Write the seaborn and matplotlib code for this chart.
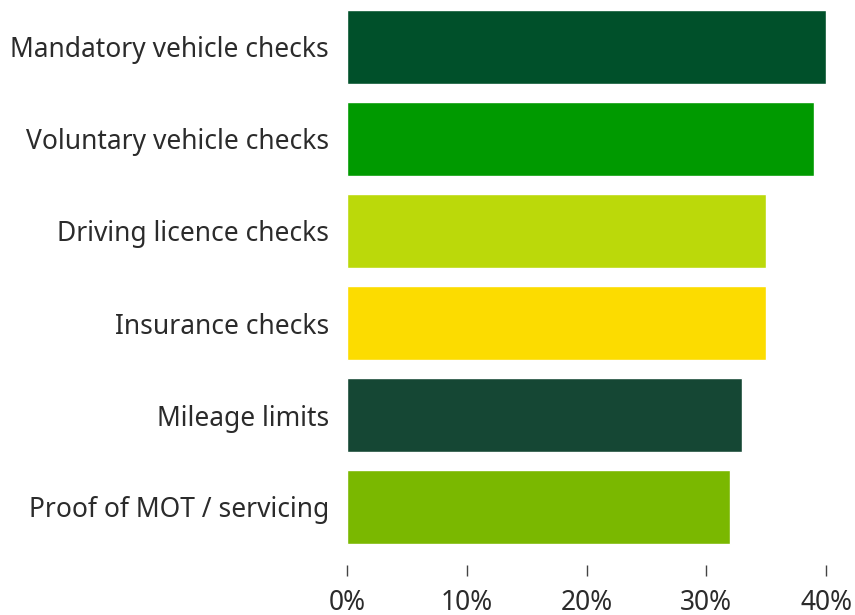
import matplotlib
matplotlib.use("Agg")
import matplotlib.pyplot as plt
import seaborn as sns
import pandas as pd

categories = ["Mandatory vehicle checks", "Voluntary vehicle checks", "Driving licence checks",
              "Insurance checks", "Mileage limits", "Proof of MOT / servicing"]
values = [40, 39, 35, 35, 33, 32]
colors = ["#00502A", "#009A00", "#BBD90A", "#FCDC00", "#154734", "#7AB800"]
x_ticks = [0, 10, 20, 30, 40]
x_labels = ["0%", "10%", "20%", "30%", "40%"]

df = pd.DataFrame({"category": categories, "value": values})

sns.set_theme(style="white")
plt.rcParams["font.family"] = ["Noto Sans", "DejaVu Sans"]

fig = plt.figure(figsize=(8.55, 6.15), dpi=100)
ax = fig.add_axes([347 / 855, 1 - 565 / 615, (826 - 347) / 855, 564 / 615])

sns.barplot(data=df, x="value", y="category", hue="category", palette=colors,
            legend=False, width=0.8, saturation=1, ax=ax)

ax.set_xlim(0, 40)
ax.set_ylim(-0.5 + 564 / 92, -0.5)
ax.set_xticks(x_ticks)
ax.set_xticklabels(x_labels, fontsize=19, color="#2b2b2b")
ax.tick_params(axis="x", length=8, width=1, color="#444444", pad=9, bottom=True)
ax.tick_params(axis="y", length=0, pad=13)
for lbl in ax.get_yticklabels():
    lbl.set_fontsize(19)
    lbl.set_color("#2b2b2b")
ax.set_xlabel("")
ax.set_ylabel("")
sns.despine(left=True, bottom=True)

fig.savefig("out.png", dpi=100)
